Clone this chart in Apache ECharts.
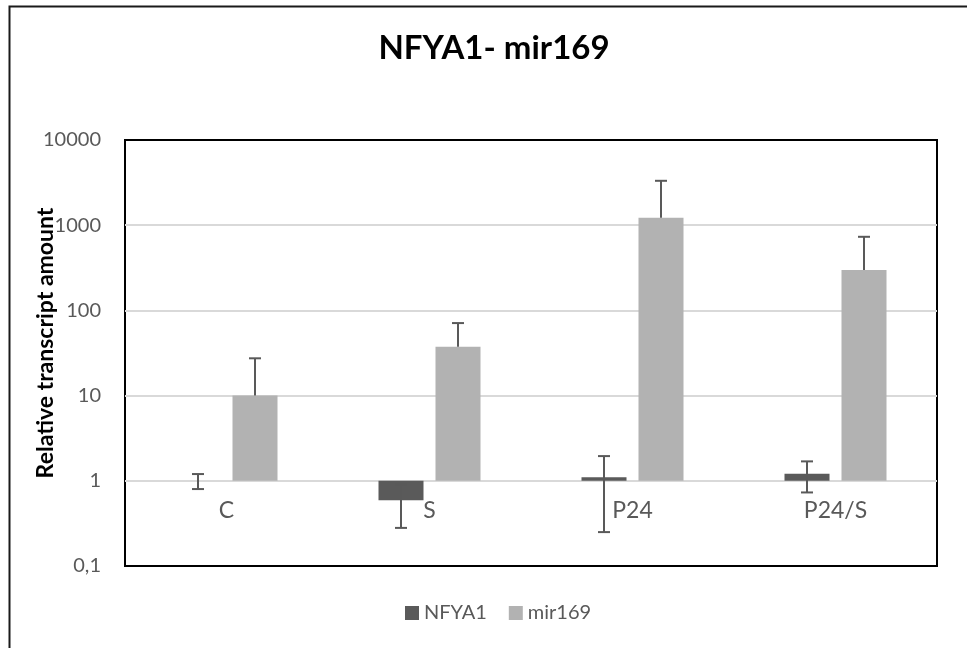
<!DOCTYPE html>
<html>
<head>
<meta charset="utf-8">
<script src="https://cdn.jsdelivr.net/npm/echarts@6/dist/echarts.min.js"></script>
<style>
html, body { margin: 0; padding: 0; background: #fff; }
#chart { width: 967px; height: 648px; }
</style>
</head>
<body>
<div id="chart"></div>
<script>
// values (log axis, bars grow from 1)
const categories = ['C', 'S', 'P24', 'P24/S']
const nfya1 = [1.0, 0.59, 1.1, 1.21]
const nfya1Err = [0.2, 0.31, 0.85, 0.48]
const mir169 = [10, 37.5, 1220, 298]
const mir169Err = [17.4, 33.5, 2100, 433]
const yTickLabels = ['0,1', '1', '10', '100', '1000', '10000']

const font = 'Lato, "Open Sans", sans-serif'
const barWidth = 45
const barGapPx = 12
const shift = (barWidth + barGapPx) / 2

// [category, low, high, value]
const nfya1Bars = nfya1.map((v, i) => [i, v - nfya1Err[i], v + nfya1Err[i], v])
// mir169 only shows the plus side
const mir169Bars = mir169.map((v, i) => [i, v, v + mir169Err[i], v])

function errorBar(offset) {
  return function(params, api) {
    const x = api.coord([api.value(0), 1])[0] + offset
    const yHi = api.coord([api.value(0), api.value(2)])[1]
    const yLo = api.coord([api.value(0), api.value(1)])[1]
    const style = { stroke: '#595959', lineWidth: 2 }
    const children = [
      { type: 'line', shape: { x1: x, y1: yHi, x2: x, y2: yLo }, style: style },
      { type: 'line', shape: { x1: x - 6, y1: yHi, x2: x + 6, y2: yHi }, style: style }
    ]
    if (api.value(1) < api.value(3)) {
      children.push({ type: 'line', shape: { x1: x - 6, y1: yLo, x2: x + 6, y2: yLo }, style: style })
    }
    return { type: 'group', children: children }
  }
}

const chart = echarts.init(document.getElementById('chart'))
chart.setOption({
  animation: false,
  textStyle: { fontFamily: font },
  title: {
    text: 'NFYA1- mir169',
    left: 489,
    textAlign: 'center',
    top: 27,
    textStyle: { fontSize: 33, fontWeight: 'bold', color: '#000', fontFamily: font }
  },
  legend: {
    data: ['NFYA1', 'mir169'],
    bottom: 20,
    left: 400,
    itemWidth: 14,
    itemHeight: 14,
    itemGap: 22,
    icon: 'rect',
    textStyle: { fontSize: 20, color: '#595959', fontFamily: font }
  },
  grid: {
    left: 125,
    right: 30,
    top: 140,
    bottom: 82,
    show: true,
    borderColor: '#000',
    borderWidth: 2,
    containLabel: false,
    outerBoundsMode: 'none'
  },
  xAxis: {
    type: 'category',
    data: categories,
    offset: -85.2,
    axisLine: { show: false },
    axisTick: { show: false },
    axisLabel: { margin: 18, fontSize: 23, color: '#595959', fontFamily: font }
  },
  yAxis: {
    type: 'log',
    logBase: 10,
    min: 0.1,
    max: 10000,
    name: 'Relative transcript amount',
    nameLocation: 'middle',
    nameGap: 68,
    nameMoveOverlap: false,
    nameTextStyle: { fontSize: 23, fontWeight: 'bold', color: '#000', fontFamily: font, padding: [0, 0, 0, 20] },
    axisLine: { show: false },
    axisTick: { show: false },
    splitLine: { showMinLine: false, showMaxLine: false, lineStyle: { color: '#d9d9d9', width: 2 } },
    axisLabel: {
      margin: 24,
      fontSize: 20,
      color: '#595959',
      fontFamily: font,
      formatter: v => yTickLabels[Math.round(Math.log10(v)) + 1]
    }
  },
  series: [
    {
      name: 'NFYA1',
      type: 'bar',
      data: nfya1,
      barWidth: barWidth,
      barGap: (barGapPx / barWidth * 100) + '%',
      itemStyle: { color: '#5a5a5a' }
    },
    {
      name: 'mir169',
      type: 'bar',
      data: mir169,
      barWidth: barWidth,
      itemStyle: { color: '#b2b2b2' }
    },
    {
      type: 'custom',
      name: 'NFYA1 err',
      renderItem: errorBar(-shift),
      data: nfya1Bars,
      encode: { x: 0, y: [1, 2] },
      z: 5
    },
    {
      type: 'custom',
      name: 'mir169 err',
      renderItem: errorBar(shift),
      data: mir169Bars,
      encode: { x: 0, y: [1, 2] },
      z: 5
    }
  ],
  graphic: [
    {
      type: 'polyline',
      shape: { points: [[9.5, 648], [9.5, 6.5], [967, 6.5]] },
      style: { stroke: '#1a1a1a', lineWidth: 2, fill: null },
      silent: true
    }
  ]
})
</script>
</body>
</html>
